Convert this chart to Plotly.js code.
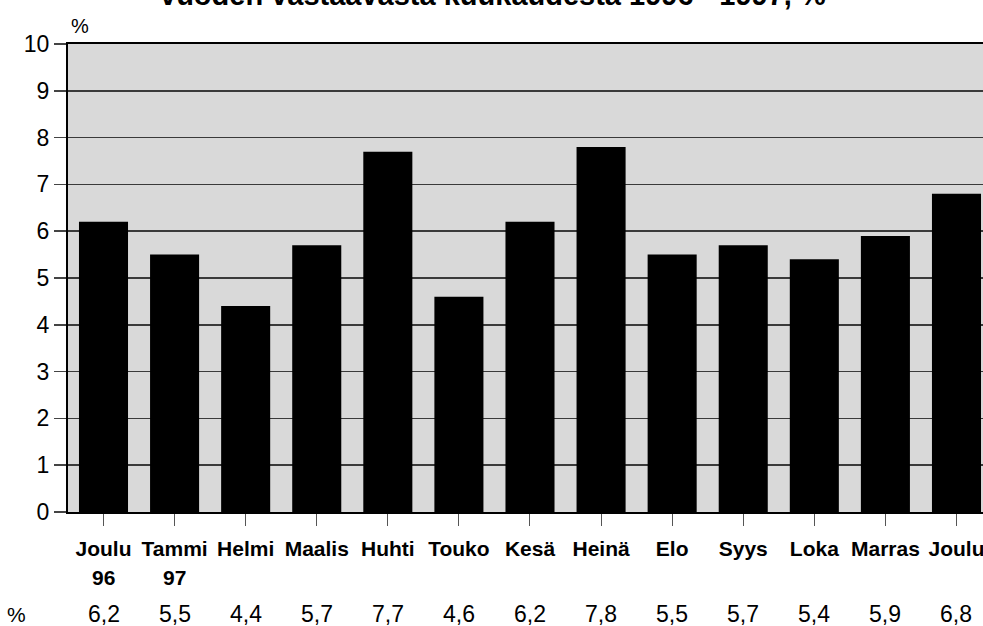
<!DOCTYPE html>
<html>
<head>
<meta charset="utf-8">
<script src="https://cdn.plot.ly/plotly-3.0.1.min.js"></script>
<style>html,body{margin:0;padding:0;overflow:hidden;background:#fff}</style>
</head>
<body>
<div id="chart" style="width:983px;height:626px"></div>
<script>
const months = ["Joulu", "Tammi", "Helmi", "Maalis", "Huhti", "Touko", "Kesä", "Heinä", "Elo", "Syys", "Loka", "Marras", "Joulu"];
const years = ["96", "97", "", "", "", "", "", "", "", "", "", "", ""];
const values = [6.2, 5.5, 4.4, 5.7, 7.7, 4.6, 6.2, 7.8, 5.5, 5.7, 5.4, 5.9, 6.8];
const valueLabels = ["6,2", "5,5", "4,4", "5,7", "7,7", "4,6", "6,2", "7,8", "5,5", "5,7", "5,4", "5,9", "6,8"];
const yTicks = [0, 1, 2, 3, 4, 5, 6, 7, 8, 9, 10];
const titleText = "vuoden vastaavasta kuukaudesta 1996 - 1997, %";

const idx = months.map((m, i) => i);
const regular = "'Liberation Sans', Arial, sans-serif";
const bold = "'Liberation Sans', Arial, sans-serif";

const annotations = [];
idx.forEach(i => {
  if (years[i]) {
    annotations.push({x: i, y: -0.1395, xref: 'x', yref: 'paper', text: '<b>' + years[i] + '</b>',
      showarrow: false, xanchor: 'center', yanchor: 'middle', font: {family: bold, size: 21, color: '#000'}});
  }
  annotations.push({x: i, y: -0.219, xref: 'x', yref: 'paper', text: valueLabels[i],
    showarrow: false, xanchor: 'center', yanchor: 'middle', font: {family: regular, size: 23, color: '#000'}});
});
annotations.push({x: (16 - 68) / 915, y: -0.219, xref: 'paper', yref: 'paper', text: '%', showarrow: false,
  xanchor: 'center', yanchor: 'middle', font: {family: regular, size: 21, color: '#000'}});
annotations.push({x: 0.013, y: 1.038, xref: 'paper', yref: 'paper', text: '%', showarrow: false,
  xanchor: 'center', yanchor: 'middle', font: {family: regular, size: 20, color: '#000'}});
annotations.push({x: 0.464, y: 1.105, xref: 'paper', yref: 'paper', text: '<b>' + titleText + '</b>', showarrow: false,
  xanchor: 'center', yanchor: 'middle', font: {family: bold, size: 29, color: '#000'}});

const data = [{
  type: 'bar',
  x: idx,
  y: values,
  width: 0.69,
  marker: {color: '#000', line: {width: 0}},
  hoverinfo: 'skip'
}];

const layout = {
  width: 983, height: 626,
  margin: {l: 68, r: 0, t: 44, b: 114, pad: 0},
  paper_bgcolor: '#fff',
  plot_bgcolor: '#d9d9d9',
  showlegend: false,
  xaxis: {
    range: [-0.4994, 12.373],
    tickmode: 'array', tickvals: idx, ticktext: months.map(m => '<b>' + m + '</b>'),
    tickfont: {family: bold, size: 21, color: '#000'},
    ticks: 'outside', ticklen: 12, tickcolor: '#555', tickwidth: 1,
    ticklabelstandoff: 5, ticklabeloverflow: 'allow',
    showline: true, linecolor: '#000', linewidth: 2, mirror: true,
    showgrid: false, zeroline: false, fixedrange: true
  },
  yaxis: {
    range: [0, 10],
    tickmode: 'array', tickvals: yTicks, ticktext: yTicks.map(String),
    tickfont: {family: regular, size: 23, color: '#000'},
    ticks: 'outside', ticklen: 12, tickcolor: '#444', tickwidth: 1.5,
    showline: true, linecolor: '#000', linewidth: 2,
    showgrid: true, gridcolor: '#3a3a3a', gridwidth: 1.5,
    zeroline: false, fixedrange: true
  },
  annotations: annotations
};

Plotly.newPlot('chart', data, layout, {displayModeBar: false, staticPlot: true});
</script>
</body>
</html>
